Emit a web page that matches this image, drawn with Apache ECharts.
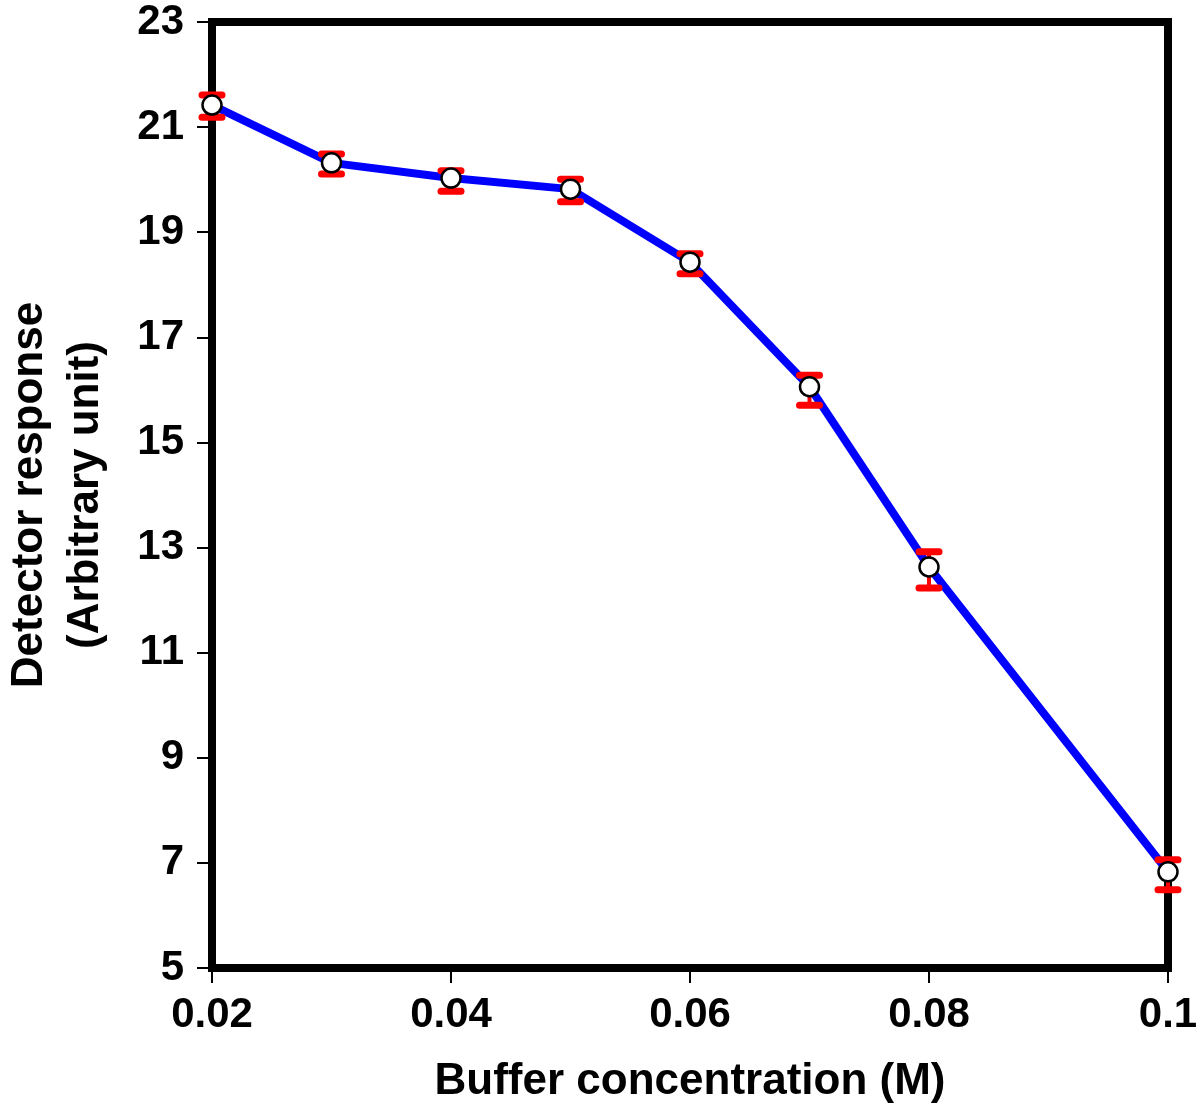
<!DOCTYPE html>
<html><head><meta charset="utf-8">
<script src="https://cdn.jsdelivr.net/npm/echarts@6/dist/echarts.min.js"></script>
<style>html,body{margin:0;padding:0;background:#fff}#c{width:1200px;height:1108px}</style>
</head><body><div id="c"></div>
<script>
const concentration = [0.02, 0.03, 0.04, 0.05, 0.06, 0.07, 0.08, 0.1];
const response = [21.42, 20.32, 20.03, 19.82, 18.43, 16.06, 12.63, 6.83];
const errHigh = [21.61, 20.49, 20.17, 20.01, 18.59, 16.28, 12.92, 7.06];
const errLow = [21.19, 20.11, 19.78, 19.58, 18.21, 15.71, 12.23, 6.49];
const yTicks = [5, 7, 9, 11, 13, 15, 17, 19, 21, 23];
const xTicks = [0.02, 0.04, 0.06, 0.08, 0.1];

const FONT = '"Liberation Sans", Arial, Helvetica, sans-serif';
const pts = concentration.map((x, i) => [x, response[i]]);
const errData = concentration.map((x, i) => [x, errLow[i], errHigh[i]]);

const chart = echarts.init(document.getElementById('c'), null, {renderer: 'canvas'});
chart.setOption({
  animation: false,
  backgroundColor: '#fff',
  grid: {left: 212, right: 32, top: 22, bottom: 140, containLabel: false, outerBoundsMode: 'none',
    show: true, borderColor: '#000', borderWidth: 8, backgroundColor: 'transparent'},
  xAxis: {
    type: 'value', min: 0.02, max: 0.1, interval: 0.02,
    name: 'Buffer concentration (M)', nameLocation: 'middle', nameGap: 92,
    nameTextStyle: {fontFamily: FONT, fontWeight: 'bold', fontSize: 44, color: '#000'},
    axisLine: {show: true, onZero: false, lineStyle: {color: '#000', width: 8}},
    axisTick: {show: true, length: 15, lineStyle: {color: '#000', width: 2}},
    splitLine: {show: false},
    axisLabel: {margin: 26, fontFamily: FONT, fontWeight: 'bold', fontSize: 42, color: '#000',
      formatter: v => xTicks.some(t => Math.abs(t - v) < 1e-9) ? String(+v.toFixed(2)) : ''}
  },
  yAxis: {
    type: 'value', min: 5, max: 23, interval: 2,
    name: 'Detector response\n(Arbitrary unit)', nameLocation: 'middle', nameGap: 98, nameRotate: 90,
    nameTextStyle: {fontFamily: FONT, fontWeight: 'bold', fontSize: 44, color: '#000', lineHeight: 56, align: 'center'},
    axisLine: {show: true, onZero: false, lineStyle: {color: '#000', width: 8}},
    axisTick: {show: true, length: 15, lineStyle: {color: '#000', width: 2}},
    splitLine: {show: false},
    axisLabel: {margin: 28, fontFamily: FONT, fontWeight: 'bold', fontSize: 42, color: '#000',
      formatter: v => yTicks.indexOf(v) >= 0 ? String(v) : ''}
  },
  series: [
    {type: 'line', data: pts, showSymbol: false, symbol: 'none', z: 2,
     lineStyle: {color: '#0000ff', width: 8}},
    {type: 'custom', z: 3, data: errData, clip: false,
     renderItem: function (params, api) {
       const x = api.value(0);
       const lo = api.coord([x, api.value(1)]);
       const hi = api.coord([x, api.value(2)]);
       const hw = 10;
       const st = {stroke: '#ff0000', lineWidth: 7, lineCap: 'round'};
       return {type: 'group', children: [
         {type: 'line', shape: {x1: lo[0], y1: lo[1], x2: hi[0], y2: hi[1]}, style: {stroke: '#ff0000', lineWidth: 4}},
         {type: 'line', shape: {x1: lo[0] - hw, y1: lo[1], x2: lo[0] + hw, y2: lo[1]}, style: st},
         {type: 'line', shape: {x1: hi[0] - hw, y1: hi[1], x2: hi[0] + hw, y2: hi[1]}, style: st}
       ]};
     }},
    {type: 'scatter', data: pts, z: 4, symbol: 'circle', symbolSize: 19,
     itemStyle: {color: '#fff', borderColor: '#000', borderWidth: 2.5, opacity: 1}}
  ]
});
</script></body></html>
